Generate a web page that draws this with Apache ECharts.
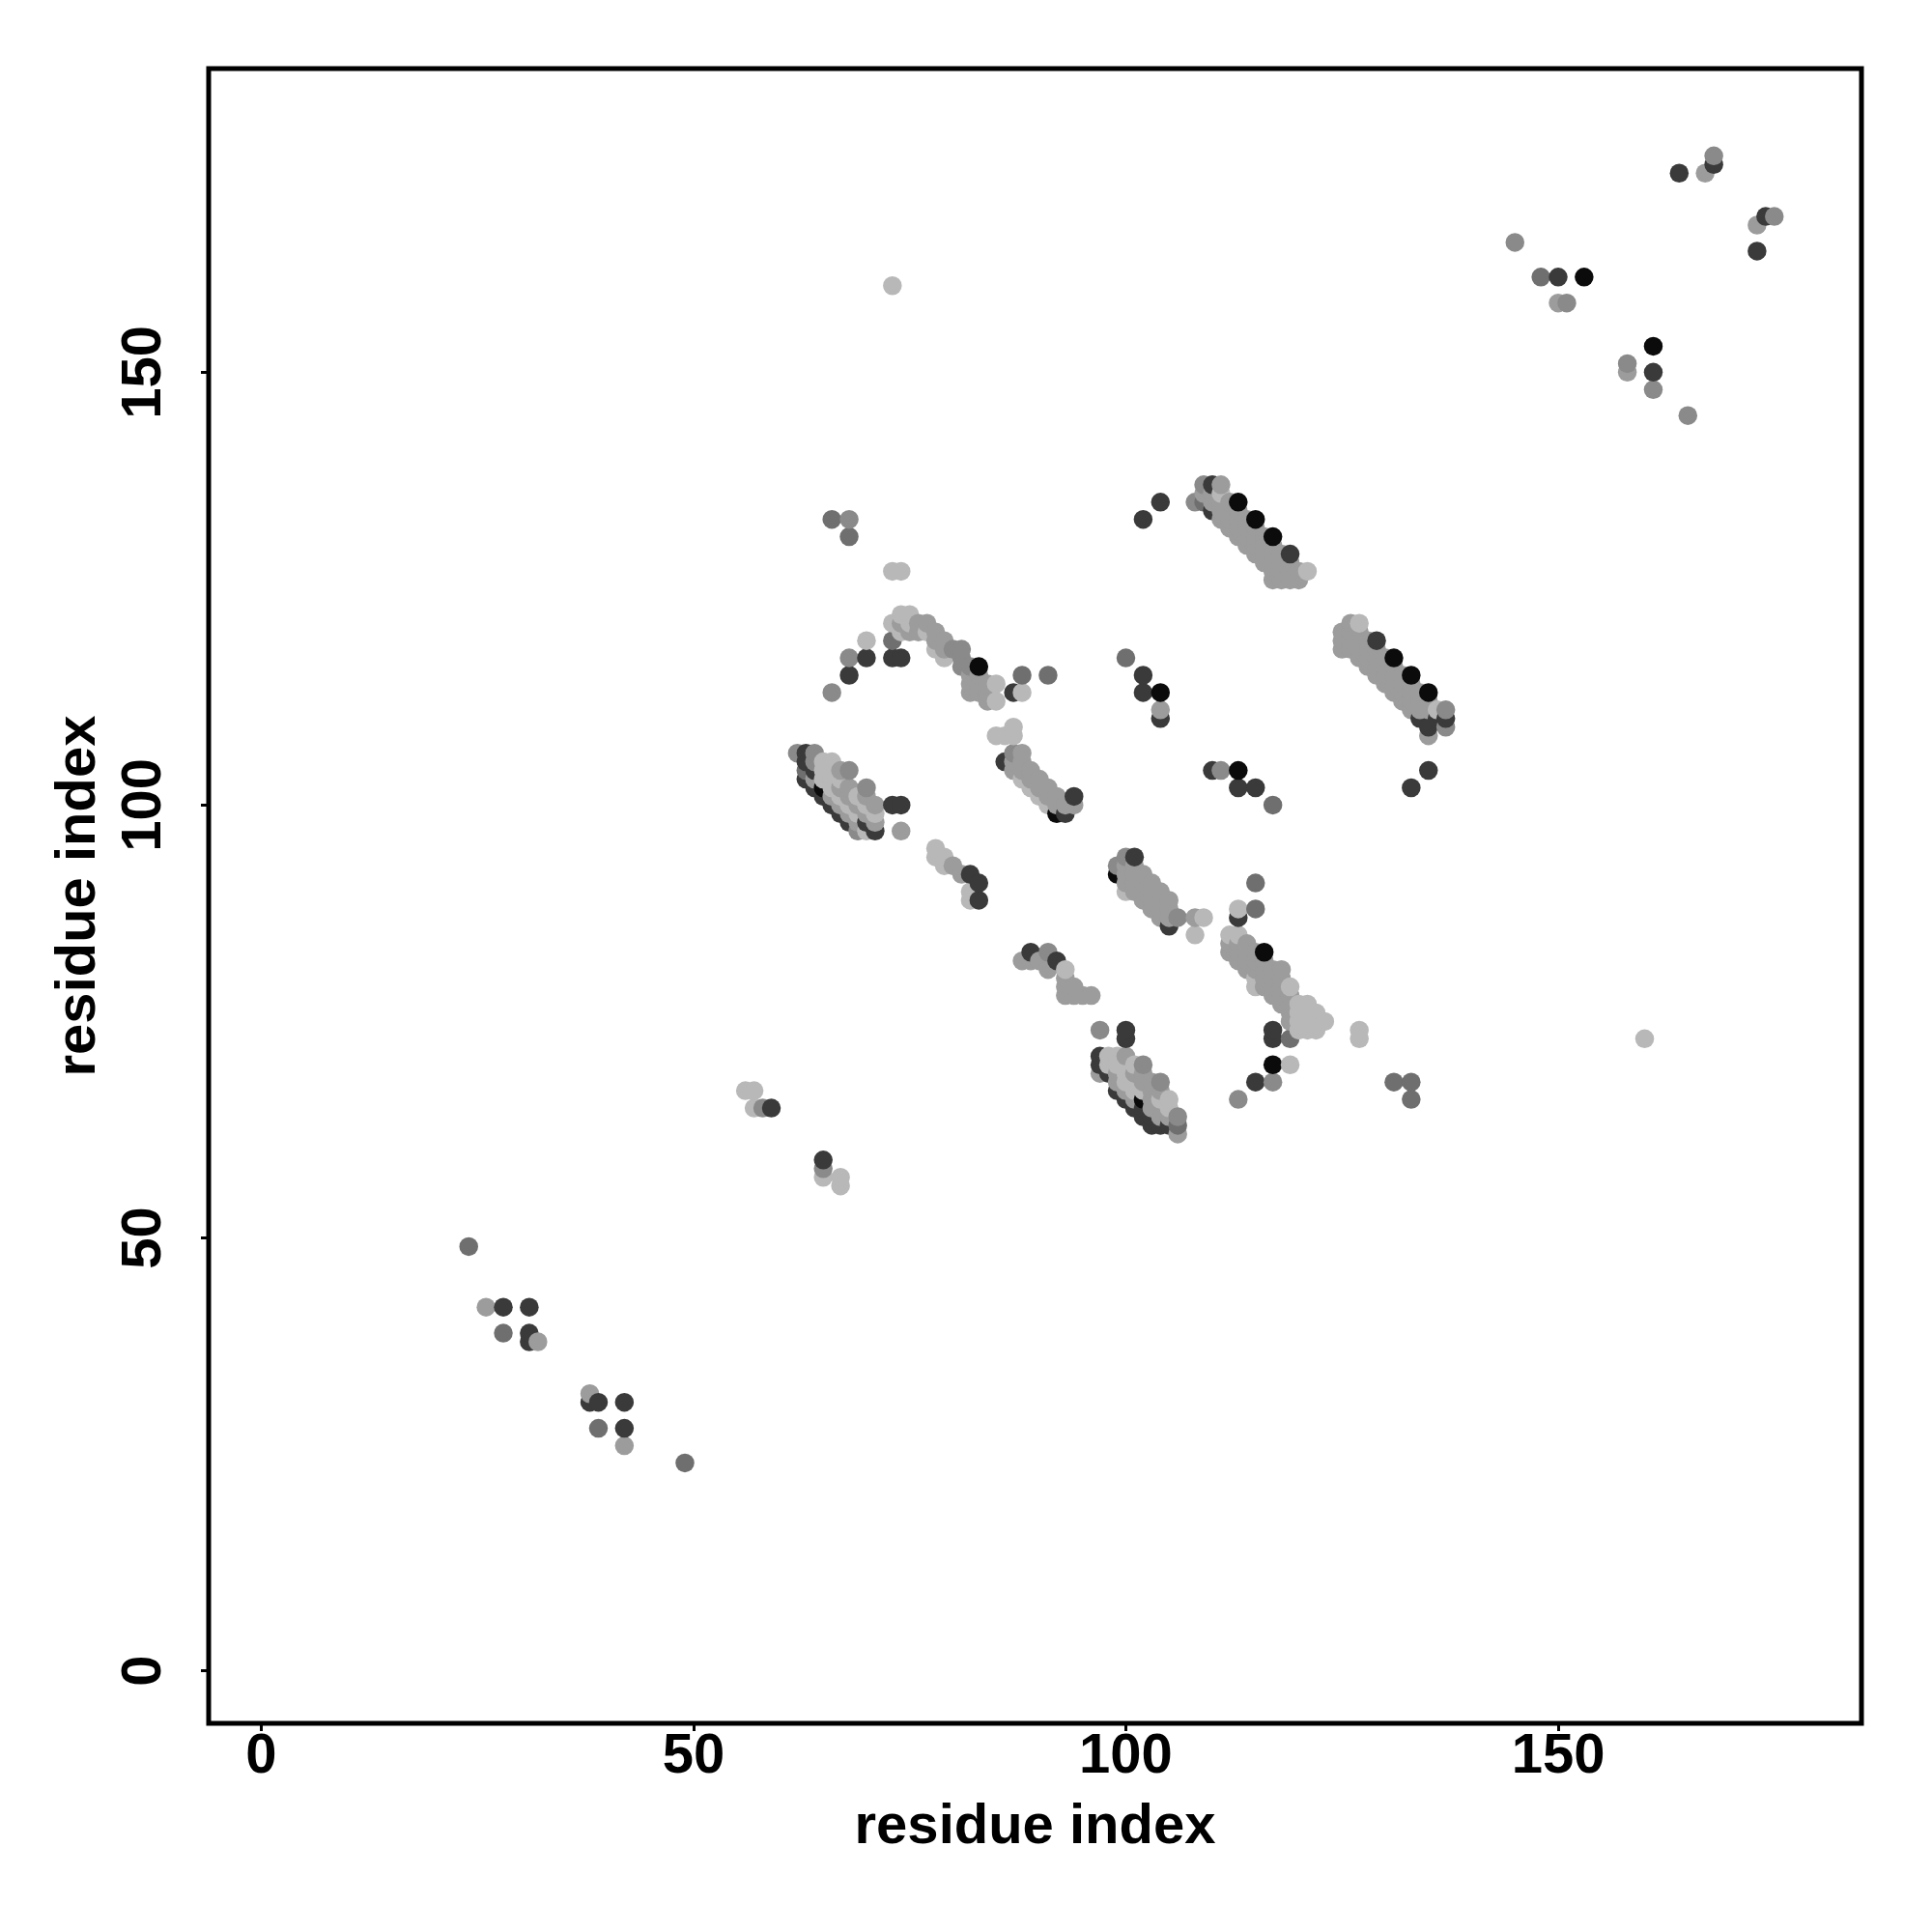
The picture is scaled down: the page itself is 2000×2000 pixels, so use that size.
<!DOCTYPE html>
<html><head><meta charset="utf-8">
<script src="https://cdn.jsdelivr.net/npm/echarts@6/dist/echarts.min.js"></script>
<style>html,body{margin:0;padding:0;background:#fff}#c{width:2000px;height:2000px}</style>
</head><body><div id="c"></div>
<script>
// tick labels and titles
const tickValues = [0, 50, 100, 150];
const xTitle = 'residue index';
const yTitle = 'residue index';
// shade index: 0 black ... 5 pale
const shadeColors = ['#0b0b0b', '#3a3a3a', '#6f6f6f', '#8a8a8a', '#9c9c9c', '#b8b8b8'];

// points: [residue i, residue j, shade]
const lowerLeft = [[24,49,2],[26,42,4],[28,42,1],[31,42,1],[28,39,2],[31,39,1],[31,38,1],[32,38,4],[38,32,4],[38,31,1],[39,31,1],[42,31,1],[39,28,2],[42,28,1],[42,26,4],[49,24,2]];
const midLeft = [[56,67,5],[57,67,5],[57,65,5],[58,65,3],[59,65,1],[65,59,1],[65,58,3],[65,57,5],[67,57,5],[67,56,5]];
const clusterATop = [[66,133,2],[68,133,3],[68,131,2],[73,127,5],[74,127,5],[73,160,5],
  [66,113,3],[68,115,1],[68,117,3],[70,117,1],[70,119,5],[73,117,1],[74,117,1],[73,119,2],[73,121,5],[74,120,5],[74,121,4],[74,122,5],[75,120,4],[75,121,5],[75,122,5],[76,120,4],[76,121,4],[77,120,5],[77,121,4],[78,118,5],[78,119,4],[78,120,4],[79,117,5],[79,118,4],[79,119,4],[80,118,3],[81,116,3],[81,117,3],[81,118,3],[82,113,4],[82,114,4],[82,115,4],[82,116,3],[83,113,4],[83,114,4],[83,115,4],[83,116,0],[84,112,4],[84,113,4],[84,114,4],[85,112,5],[85,114,5]];
const clusterAMid = [[85,108,5],[86,108,5],[86,105,1],[87,108,5],[87,109,5],[87,113,1],[88,113,5],[88,115,2],[91,115,2],
  [87,106,3],[87,105,4],[87,104,4],[88,106,4],[88,105,4],[88,104,4],[88,103,5],[89,104,4],[89,103,4],[89,102,5],[90,103,4],[90,102,4],[90,101,5],[91,102,4],[91,101,4],[91,100,5],[92,101,4],[92,100,4],[92,99,0],[93,100,4],[93,99,1],[94,100,4],[94,101,1]];
const clusterALeft = [[62,106,3],[63,106,1],[64,106,3],[63,105,1],[64,105,3],[65,105,5],[66,105,5],[63,104,2],[64,104,1],[65,104,5],[66,104,5],[67,104,4],[68,104,3],[63,103,1],[64,103,4],[65,103,5],[66,103,5],[67,103,5],[64,102,1],[65,102,0],[66,102,5],[67,102,4],[68,102,4],[70,102,3],[65,101,1],[66,101,4],[67,101,5],[68,101,4],[69,101,5],[70,101,4],[66,100,1],[67,100,4],[68,100,5],[69,100,4],[70,100,5],[71,100,4],[67,99,1],[68,99,4],[69,99,5],[70,99,4],[71,99,5],[68,98,1],[69,98,4],[70,98,1],[71,98,4],[69,97,3],[70,97,5],[71,97,1],[73,100,1],[74,100,1],[74,97,4]];
const clusterAMid2 = [[78,95,5],[78,94,5],[79,94,5],[79,93,5],[80,93,4],[81,92,4],[82,92,1],[83,91,1],[82,90,5],[82,89,5],[83,89,1]];
const clusterM0 = [[88,82,4],[89,82,4],[89,83,1],[90,82,4],[91,83,3],[91,81,4],[92,82,1],[93,81,5],[93,80,4],[93,79,4],[94,79,4],[93,78,4],[94,78,4],[95,78,4],[96,78,4]];
const clusterM1 = [[99,92,0],[99,93,3],[100,94,3],[100,93,4],[100,92,4],[100,91,4],[100,90,5],[101,94,1],[101,93,4],[101,92,4],[101,91,4],[101,90,4],[102,92,4],[102,91,4],[102,90,4],[102,89,4],[103,91,4],[103,90,4],[103,89,4],[103,88,4],[104,90,4],[104,89,4],[104,88,4],[104,87,4],[105,89,4],[105,88,4],[105,87,4],[105,86,1],[106,87,3],[108,87,4],[109,87,5],[108,85,5]];
const clusterM2 = [[113,88,5],[113,87,1],[115,88,2],[115,91,2],
  [112,85,5],[113,85,5],[112,84,4],[113,84,4],[114,84,4],[112,83,4],[113,83,4],[114,83,4],[115,83,4],[116,83,0],[113,82,4],[114,82,4],[115,82,4],[116,82,4],[114,81,4],[115,81,4],[116,81,4],[117,81,4],[118,81,4],[115,80,5],[116,80,4],[117,80,4],[118,80,4],[115,79,5],[116,79,4],[117,79,4],[118,79,4],[119,79,5],[117,78,4],[118,78,4],[119,78,4],[118,77,4],[119,77,4],[120,77,5],[121,77,5],[119,76,4],[120,76,5],[121,76,5],[122,76,5],[119,75,4],[120,75,5],[121,75,5],[122,75,5],[123,75,5],[120,74,5],[121,74,5],[122,74,5],
  [117,74,1],[117,73,1],[119,73,2],[117,70,0],[119,70,5],[115,68,1],[117,68,3],[113,66,3],[127,74,5],[127,73,5],[131,68,2],[133,68,2],[133,66,2],[160,73,5]];
const clusterM3 = [[97,74,3],[100,74,1],[100,73,1],
  [97,69,4],[97,70,1],[97,71,1],[98,69,1],[98,70,5],[98,71,5],[99,67,1],[99,68,4],[99,69,4],[99,70,5],[99,71,5],[100,66,1],[100,67,4],[100,68,5],[100,69,5],[100,70,5],[100,71,4],[101,65,1],[101,66,4],[101,67,5],[101,68,5],[101,69,4],[101,70,5],[102,64,1],[102,65,1],[102,66,0],[102,67,5],[102,68,4],[102,69,4],[102,70,3],[103,63,1],[103,64,1],[103,65,4],[103,66,4],[103,67,4],[103,68,4],[104,63,1],[104,64,4],[104,65,4],[104,66,5],[104,67,4],[104,68,3],[105,63,1],[105,64,4],[105,65,5],[105,66,5],[106,62,4],[106,63,2],[106,64,3]];
const clusterB = [[102,133,1],[104,135,1],
  [108,135,3],[109,135,2],[109,136,4],[109,137,3],[110,134,1],[110,135,4],[110,136,4],[110,137,1],[111,133,4],[111,134,4],[111,135,4],[111,136,5],[111,137,4],[112,132,4],[112,133,4],[112,134,4],[112,135,4],[113,131,4],[113,132,4],[113,133,4],[113,134,4],[113,135,0],[114,130,4],[114,131,4],[114,132,4],[114,133,4],[115,129,4],[115,130,4],[115,131,4],[115,132,4],[115,133,0],[116,128,4],[116,129,4],[116,130,4],[116,131,4],[117,126,4],[117,127,4],[117,128,4],[117,129,4],[117,130,4],[117,131,0],[118,126,4],[118,127,4],[118,128,4],[118,129,4],[119,126,4],[119,127,4],[119,128,4],[119,129,1],[120,126,4],[120,127,4],[121,127,5]];
const clusterBLow = [[100,117,2],[102,115,1],[102,113,1],[104,113,0],[104,111,4],[104,110,1],[110,104,1],[111,104,3],[113,104,0],[113,102,1],[115,102,1],[117,100,2]];
const clusterC = [[125,118,4],[125,119,4],[125,120,4],[126,118,4],[126,119,4],[126,120,4],[126,121,4],[127,117,4],[127,118,4],[127,119,4],[127,120,4],[127,121,5],[128,116,4],[128,117,4],[128,118,4],[128,119,4],[129,115,4],[129,116,4],[129,117,4],[129,118,4],[129,119,1],[130,114,4],[130,115,4],[130,116,4],[130,117,4],[131,113,4],[131,114,4],[131,115,4],[131,116,4],[131,117,0],[132,112,4],[132,113,4],[132,114,4],[132,115,4],[133,111,4],[133,112,4],[133,113,4],[133,114,4],[133,115,0],[134,110,1],[134,111,4],[134,112,4],[134,113,4],[135,108,4],[135,109,1],[135,111,4],[135,112,4],[135,113,0],[136,110,1],[136,111,5],[137,109,3],[137,110,1],[137,111,3],[135,104,1],[133,102,1]];
const topRight = [[145,165,3],[148,161,2],[150,161,1],[153,161,0],[150,158,4],[151,158,3],[158,150,4],[158,151,3],[161,148,3],[161,150,1],[161,153,0],[165,145,3],[164,173,1],[167,173,4],[168,174,1],[168,175,3],[173,164,1],[173,167,4],[174,168,1],[175,168,3]];

const allPts = [].concat(lowerLeft, midLeft, clusterATop, clusterAMid, clusterALeft, clusterAMid2, clusterM0,
  clusterM1, clusterM2, clusterM3, clusterB, clusterBLow, clusterC, topRight)
  .slice().sort((a, b) => (a[0] - b[0]) || (a[1] - b[1]));

const fontBase = {fontFamily: 'Liberation Sans', fontWeight: 'bold', fontSize: 58, color: '#000'};
const chart = echarts.init(document.getElementById('c'), null, {renderer: 'canvas'});
chart.setOption({
  animation: false,
  backgroundColor: '#fff',
  grid: {left: 216, top: 71, width: 1711, height: 1713, show: true, borderColor: '#000', borderWidth: 5, backgroundColor: 'transparent'},
  xAxis: {
    type: 'value', min: -6.08, max: 185.08, position: 'bottom',
    axisLine: {show: false, onZero: false}, splitLine: {show: false},
    axisTick: {show: true, customValues: tickValues, length: 8, lineStyle: {color: '#000', width: 3}},
    axisLabel: Object.assign({customValues: tickValues, margin: 6}, fontBase),
    name: xTitle, nameLocation: 'middle', nameGap: 79, nameTextStyle: Object.assign({}, fontBase)
  },
  yAxis: {
    type: 'value', min: -6.08, max: 185.08, position: 'left',
    axisLine: {show: false, onZero: false}, splitLine: {show: false},
    axisTick: {show: true, customValues: tickValues, length: 8, lineStyle: {color: '#000', width: 3}},
    axisLabel: Object.assign({customValues: tickValues, margin: 37, rotate: 90}, fontBase),
    name: yTitle, nameLocation: 'middle', nameGap: 105, nameRotate: 90, nameTextStyle: Object.assign({}, fontBase)
  },
  series: [{
    type: 'scatter', data: allPts, symbol: 'circle', symbolSize: 19.5, silent: true,
    itemStyle: {color: p => shadeColors[p.value[2]], opacity: 1, borderWidth: 0}
  }]
});
</script></body></html>
